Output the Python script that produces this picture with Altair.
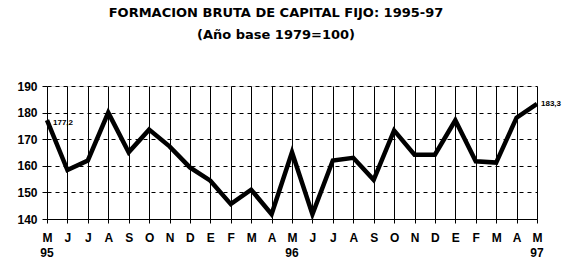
import altair as alt
import pandas as pd

months = ["M", "J", "J", "A", "S", "O", "N", "D", "E", "F", "M", "A",
          "M", "J", "J", "A", "S", "O", "N", "D", "E", "F", "M", "A", "M"]
values = [177.2, 158.4, 162.0, 180.0, 165.1, 173.6, 167.3, 159.4, 154.4, 145.6,
          151.0, 141.8, 165.1, 141.8, 162.0, 163.0, 154.7, 173.3, 164.2, 164.2,
          177.1, 161.7, 161.2, 178.1, 183.3]
year_idx = [0, 12, 24]
year_labels = ["95", "96", "97"]
label_idx = [0, 24]
label_text = ["177,2", "183,3"]

FONT = "Liberation Sans"
TFONT = "DejaVu Sans"

df = pd.DataFrame({"i": list(range(len(values))), "v": values})
yrs = pd.DataFrame({"i": year_idx, "t": year_labels})
lbl = pd.DataFrame({"i": label_idx, "v": [values[k] for k in label_idx], "t": label_text,
                    "dx": [6, 4], "dy": [3, 0]})

month_arr = "[" + ",".join("'%s'" % m for m in months) + "]"

xscale = alt.Scale(domain=[0, 24], nice=False, zero=False)
yscale = alt.Scale(domain=[140, 190], nice=False, zero=False)

xaxis = alt.Axis(values=list(range(25)), labelExpr=month_arr + "[datum.value]",
                 grid=True, gridColor="black", gridWidth=1, gridOpacity=1,
                 domainColor="black", tickColor="black", tickSize=4,
                 labelFont=FONT, labelFontSize=12, labelFontWeight="bold",
                 labelColor="black", labelPadding=9, labelFlush=False,
                 labelOverlap=False, title=None)
yaxis = alt.Axis(values=[140, 150, 160, 170, 180, 190], grid=True,
                 gridColor="black", gridDash=[4, 4], gridOpacity=1,
                 domain=False, ticks=True, tickColor="black", tickSize=5,
                 labelPadding=5, labelOverlap=False, labelFlush=False,
                 labelFont=FONT, labelFontSize=12, labelFontWeight="bold",
                 labelColor="black", title=None)

line = alt.Chart(df).mark_line(color="black", strokeWidth=4.5, strokeJoin="miter").encode(
    x=alt.X("i:Q", scale=xscale, axis=xaxis),
    y=alt.Y("v:Q", scale=yscale, axis=yaxis),
)

years = alt.Chart(yrs).mark_text(font=FONT, fontSize=12, fontWeight="bold",
                                 color="black", baseline="middle").encode(
    x=alt.X("i:Q", scale=xscale, axis=xaxis),
    y=alt.value(167),
    text="t:N",
)

pts0 = alt.Chart(lbl.iloc[[0]]).mark_text(font=FONT, fontSize=8, fontWeight="bold",
                                          color="black", align="left", baseline="middle",
                                          dx=6, dy=3).encode(
    x=alt.X("i:Q", scale=xscale, axis=xaxis),
    y=alt.Y("v:Q", scale=yscale, axis=yaxis),
    text="t:N",
)
pts1 = alt.Chart(lbl.iloc[[1]]).mark_text(font=FONT, fontSize=8, fontWeight="bold",
                                          color="black", align="left", baseline="middle",
                                          dx=4, dy=0).encode(
    x=alt.X("i:Q", scale=xscale, axis=xaxis),
    y=alt.Y("v:Q", scale=yscale, axis=yaxis),
    text="t:N",
)

chart = alt.layer(line, years, pts0, pts1).properties(
    width=490, height=133,
    padding={"left": 47, "top": 86, "right": 45, "bottom": 51},
    autosize=alt.AutoSizeParams(type="none"),
    title=alt.TitleParams(
        text="FORMACION BRUTA DE CAPITAL FIJO: 1995-97",
        subtitle="(Año base 1979=100)",
        font=TFONT, fontSize=13, fontWeight="bold", color="black",
        subtitleFont=TFONT, subtitleFontSize=13, subtitleFontWeight="bold",
        subtitleColor="black", subtitlePadding=9, offset=38,
        anchor="middle", dx=-16,
    ),
).configure_view(stroke="black", strokeWidth=1).configure(background="white")

chart.save("out.html", embed_options={"renderer": "svg", "actions": False})
